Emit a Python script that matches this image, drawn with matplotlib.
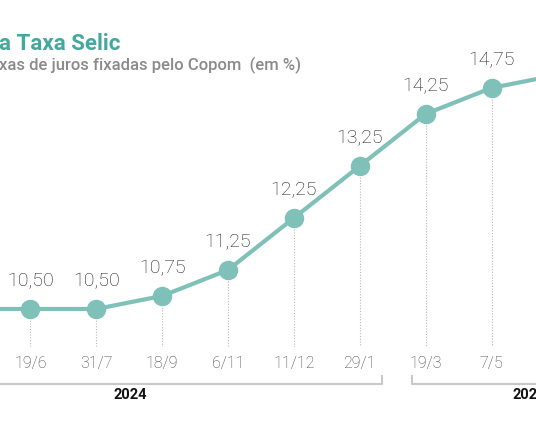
import matplotlib
matplotlib.use("Agg")
import matplotlib.pyplot as plt

# Copom meetings and Selic rate (% a.a.)
dates = ["8/5", "19/6", "31/7", "18/9", "6/11", "11/12", "29/1", "19/3", "7/5", "18/6"]
selic = [10.50, 10.50, 10.50, 10.75, 11.25, 12.25, 13.25, 14.25, 14.75, 15.00]
years = ["2024", "2025"]

TEAL = "#7fc1b9"
TITLE_TEAL = "#45a89c"
plt.rcParams["font.family"] = ["Roboto", "DejaVu Sans"]

fig = plt.figure(figsize=(5.36, 4.30), dpi=100)
ax = fig.add_axes([0, 0, 1, 1])
ax.set_axis_off()

x = list(range(len(dates)))
ax.set_xlim(0.54, 8.674)
ax.set_ylim(8.173, 16.44)

ax.plot(x, selic, color=TEAL, lw=3, solid_capstyle="round", zorder=2)
ax.plot(x, selic, "o", color=TEAL, ms=13, zorder=3)

xt = ax.get_xaxis_transform()
lo, hi = ax.get_xlim()
for i, (d, v) in enumerate(zip(dates, selic)):
    if not (lo < i < hi):
        continue
    ax.annotate(f"{v:.2f}".replace(".", ","), (i, v), xytext=(0, 20),
                textcoords="offset points", ha="center", va="center",
                fontsize=14, fontweight="light", color="#1e1e1e")
    # dotted drop line from the point to the date label
    ax.plot([i, i], [v, 0], color="#b8b8b8", lw=0.8, ls=(0, (1, 1.5)),
            zorder=1, clip_on=True)
    ax.text(i, 0.155, d, transform=xt, ha="center", va="center",
            fontsize=11.5, fontweight="light", color="#444444")

# hide the drop lines below the labels
ax.fill_between([lo, hi], 0, 0.193, transform=xt, color="white", zorder=1.5)

# year brackets
br_y, tick_y = 0.107, 0.125
ax.plot([-1.5, 6.34, 6.34], [br_y, br_y, tick_y], transform=xt,
        color="#c8c8c8", lw=1.5, clip_on=True)
ax.plot([6.79, 6.79, 9.5], [tick_y, br_y, br_y], transform=xt,
        color="#c8c8c8", lw=1.5, clip_on=True)
ax.text(2.52, 0.081, years[0], transform=xt, ha="center", va="center",
        fontsize=10.5, fontweight="bold", color="#111111")
ax.text(8.57, 0.081, years[1], transform=xt, ha="center", va="center",
        fontsize=10.5, fontweight="bold", color="#111111")

fig.text(-0.002, 0.884, "a Taxa Selic", ha="left", va="baseline",
         fontsize=16, fontweight="bold", color=TITLE_TEAL)
fig.text(-0.002, 0.837, "xas de juros fixadas pelo Copom  (em %)", ha="left",
         va="baseline", fontsize=12, fontweight="medium", color="#8a8a8a")

fig.savefig("out.png", dpi=100, facecolor="white")
